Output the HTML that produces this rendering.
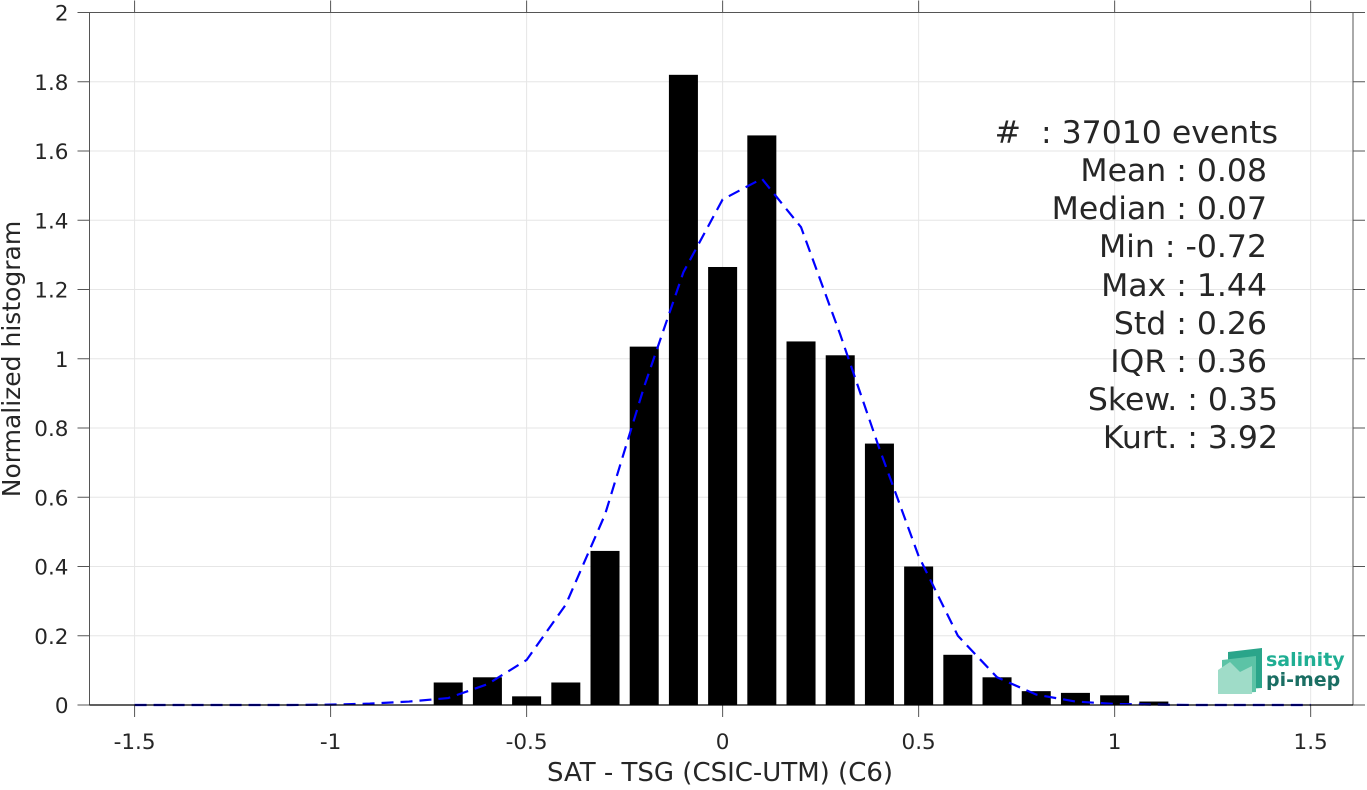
<!DOCTYPE html>
<html><head><meta charset="utf-8"><style>
body{margin:0;background:#fff;}
svg text{font-family:"DejaVu Sans","Liberation Sans",sans-serif;fill:#262626;}
</style></head><body>
<svg id="chart" width="1367" height="785" viewBox="0 0 1367 785" xmlns="http://www.w3.org/2000/svg">
<g id="grid"></g>
<g id="bars"></g>
<polyline id="fit" fill="none" stroke="#0000ff" stroke-width="2.2" stroke-dasharray="12,7"/>
<g id="axes"></g>
<text x="720" y="781" font-size="26" text-anchor="middle">SAT - TSG (CSIC-UTM) (C6)</text>
<text transform="translate(20,359) rotate(-90)" font-size="25" text-anchor="middle">Normalized histogram</text>
<g font-size="31.5" text-anchor="end">
<text x="1278" y="143" xml:space="preserve">#  : 37010 events</text>
<text x="1267" y="181">Mean : 0.08</text>
<text x="1267" y="219">Median : 0.07</text>
<text x="1267" y="257">Min : -0.72</text>
<text x="1267" y="296">Max : 1.44</text>
<text x="1267" y="334">Std : 0.26</text>
<text x="1267" y="372">IQR : 0.36</text>
<text x="1278" y="410">Skew. : 0.35</text>
<text x="1278" y="448">Kurt. : 3.92</text>
</g>
<g>
<polygon points="1228,652 1262,648 1262,688 1228,690" fill="#2aa58a"/>
<polygon points="1222,660 1256,656 1256,692 1222,694" fill="#5cc3a6"/>
<polygon points="1218,670 1230,662 1240,672 1252,666 1252,694 1218,694" fill="#9fdcc8"/>
<text x="1266" y="666" font-size="19" font-weight="bold" style="fill:#1fae93">salinity</text>
<text x="1266" y="686" font-size="19" font-weight="bold" style="fill:#1a6e63">pi-mep</text>
</g>
</svg>
<script>
const binCenters=[-0.7,-0.6,-0.5,-0.4,-0.3,-0.2,-0.1,0,0.1,0.2,0.3,0.4,0.5,0.6,0.7,0.8,0.9,1.0,1.1];
const binValues=[0.065,0.08,0.025,0.065,0.445,1.035,1.82,1.265,1.645,1.05,1.01,0.755,0.40,0.145,0.08,0.04,0.035,0.028,0.01];
const fitX=[-1.5,-1.4,-1.3,-1.2,-1.1,-1.0,-0.9,-0.8,-0.7,-0.6,-0.5,-0.4,-0.3,-0.2,-0.1,0,0.1,0.2,0.3,0.4,0.5,0.6,0.7,0.8,0.9,1.0,1.1,1.2,1.3,1.4,1.5];
const fitY=[0,0,0,0,0,0.001,0.004,0.01,0.02,0.06,0.13,0.29,0.55,0.92,1.25,1.46,1.52,1.38,1.07,0.74,0.43,0.2,0.08,0.03,0.01,0.003,0.001,0,0,0,0];
const xTicks=[-1.5,-1,-0.5,0,0.5,1,1.5];
const xTickLabels=["-1.5","-1","-0.5","0","0.5","1","1.5"];
const yTicks=[0,0.2,0.4,0.6,0.8,1,1.2,1.4,1.6,1.8,2];
const yTickLabels=["0","0.2","0.4","0.6","0.8","1","1.2","1.4","1.6","1.8","2"];
const NS="http://www.w3.org/2000/svg";
const L=89.5,R=1353,T=12.5,B=705;
const xMin=-1.615,xMax=1.608,yMin=0,yMax=2;
const sx=v=>L+(v-xMin)/(xMax-xMin)*(R-L);
const sy=v=>B-(v-yMin)/(yMax-yMin)*(B-T);
function mk(tag,attrs,parent){const e=document.createElementNS(NS,tag);for(const k in attrs)e.setAttribute(k,attrs[k]);parent.appendChild(e);return e;}
const grid=document.getElementById('grid'),axes=document.getElementById('axes'),bars=document.getElementById('bars');
xTicks.forEach((t,i)=>{const x=sx(t);
 const g=mk('line',{x1:x,x2:x,y1:T,y2:B,stroke:'#e6e6e6','stroke-width':1},grid);
 
 
 mk('line',{x1:x,x2:x,y1:B,y2:B+12,stroke:'#555','stroke-width':1},axes);
 mk('line',{x1:x,x2:x,y1:T,y2:T-12,stroke:'#555','stroke-width':1},axes);
 const tx=mk('text',{x:x,y:B+44,'font-size':21.5,'text-anchor':'middle'},axes);tx.textContent=xTickLabels[i];
 
 
});
yTicks.forEach((t,i)=>{const y=sy(t);
 const g=mk('line',{x1:L,x2:R,y1:y,y2:y,stroke:'#e6e6e6','stroke-width':1},grid);
 
 
 mk('line',{x1:L-12,x2:L,y1:y,y2:y,stroke:'#555','stroke-width':1},axes);
 mk('line',{x1:R,x2:R+12,y1:y,y2:y,stroke:'#555','stroke-width':1},axes);
 const tx=mk('text',{x:L-21,y:y+8,'font-size':21.5,'text-anchor':'end'},axes);tx.textContent=yTickLabels[i];
 
 
});
mk('rect',{x:L,y:T,width:R-L,height:B-T,fill:'none',stroke:'#555','stroke-width':1},axes);
const bw=0.074;
binCenters.forEach((c,i)=>{
 const r=mk('rect',{x:sx(c-bw/2),y:sy(binValues[i]),width:sx(c+bw/2)-sx(c-bw/2),height:sy(0)-sy(binValues[i]),fill:'#000'},bars);
 
 
});
document.getElementById('fit').setAttribute('points',fitX.map((x,i)=>sx(x)+','+sy(fitY[i])).join(' '));
mk('line',{x1:L,x2:R,y1:B,y2:B,stroke:'#000','stroke-width':1.2},axes);
</script>
</body></html>
